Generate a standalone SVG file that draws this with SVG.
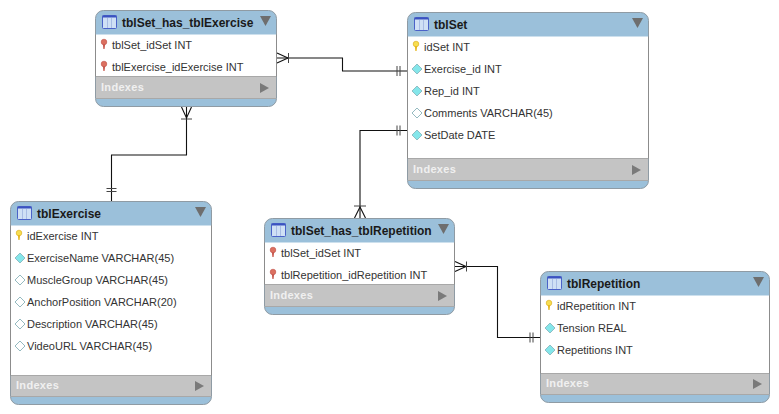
<svg xmlns="http://www.w3.org/2000/svg" width="779" height="414" viewBox="0 0 779 414">
<style>
text{font-family:"Liberation Sans",Arial,sans-serif}
.t{font-size:12px;font-weight:bold;fill:#1a1a1a}
.f{font-size:11px;fill:#333}
.x{font-size:11px;font-weight:bold;fill:#f0f0f0;letter-spacing:.3px}
.card{fill:#9bc0da;stroke:#8f9ba4;stroke-width:1}
.body{fill:#fff}
.idx{fill:#c4c4c4}
.sep{stroke:#a8a8a8;stroke-width:1;fill:none}
.edge{stroke:#8c8c8c;stroke-width:1;fill:none}
.c{fill:none;stroke:#111;stroke-width:1.1}
.m{fill:none;stroke:#444;stroke-width:1}
</style>
<defs>
<g id="tbl"><rect x="0.500" y="0.500" width="14" height="13" rx="1" fill="#cfe0f5" stroke="#4a62c8"/><rect x="0.500" y="0.500" width="14" height="2" fill="#3a52c0"/><path d="M5.500 3V13M9.500 3V13" stroke="#a8bce4" fill="none"/></g>
<path id="dn" d="M0 0H11L5.500 10Z" fill="#6e6e6e"/>
<path id="rt" d="M0 0L9 5L0 10Z" fill="#7a7a7a"/>
<g id="pk"><circle cx="3" cy="3" r="2.800" fill="#f7de50" stroke="#d8a818" stroke-width=".6"/><path d="M1.800 5H4.200L3.600 10H2.400Z" fill="#e6b820"/></g>
<g id="fk"><circle cx="3" cy="3" r="2.800" fill="#dc7060" stroke="#c05048" stroke-width=".6"/><path d="M1.800 5H4.200L3.600 10H2.400Z" fill="#c85a50"/></g>
<path id="fill" d="M5 0L10 5L5 10L0 5Z" fill="#84e6ea" stroke="#7aa8b0" stroke-width=".7"/>
<path id="open" d="M5 0L10 5L5 10L0 5Z" fill="#fff" stroke="#7aa8b0" stroke-width=".8"/>
</defs>

<g id="connectors">
<path class="c" d="M277 58H342.500V71H407"/>
<path class="c" d="M277 53L288 58L277 63"/><path class="m" d="M288.500 53V63"/>
<path class="m" d="M397 66V76M400 66V76"/>
<path class="c" d="M407 130.500H360V218"/>
<path class="m" d="M397 125.500V135.500M400 125.500V135.500"/>
<path class="m" d="M354 206H366"/><path class="c" d="M354.500 218L360 207L365.500 218"/>
<path class="c" d="M186.500 107V155H111.500V201"/>
<path class="m" d="M181 119H192"/><path class="c" d="M181.500 107L186.500 118L191.500 107"/>
<path class="m" d="M106.500 188.500H116.500M106.500 191.500H116.500"/>
<path class="c" d="M455 266.500H497.500V337.500H540"/>
<path class="c" d="M455 261.500L466 266.500L455 271.500"/><path class="m" d="M466.500 261.500V271.500"/>
<path class="m" d="M530 332.500V342.500M533 332.500V342.500"/>
</g>

<g id="tblSet_has_tblExercise">
<rect class="card" x="95.500" y="10.500" width="181" height="96" rx="8"/>
<rect class="body" x="96" y="34.500" width="180" height="42"/>
<rect class="idx" x="96" y="76.500" width="180" height="22"/>
<path class="sep" d="M96 76.500H276M96 98.500H276"/><path class="edge" d="M95.500 34.500V76.500M276.500 34.500V76.500"/>
<use href="#tbl" x="102" y="15"/><text class="t" x="122" y="27">tblSet_has_tblExercise</text><use href="#dn" x="260" y="16"/>
<use href="#fk" x="101" y="39"/><text class="f" x="112" y="49">tblSet_idSet INT</text>
<use href="#fk" x="101" y="61"/><text class="f" x="112" y="71">tblExercise_idExercise INT</text>
<text class="x" x="101" y="91">Indexes</text><use href="#rt" x="260" y="83"/>
</g>

<g id="tblSet">
<rect class="card" x="407.500" y="12.500" width="241" height="176" rx="8"/>
<rect class="body" x="408" y="36.500" width="240" height="122"/>
<rect class="idx" x="408" y="158.500" width="240" height="22"/>
<path class="sep" d="M408 158.500H648M408 180.500H648"/><path class="edge" d="M407.500 36.500V158.500M648.500 36.500V158.500"/>
<use href="#tbl" x="414" y="17"/><text class="t" x="434" y="29">tblSet</text><use href="#dn" x="632" y="18"/>
<use href="#pk" x="413" y="41"/><text class="f" x="424" y="51">idSet INT</text>
<use href="#fill" x="412" y="64"/><text class="f" x="424" y="73">Exercise_id INT</text>
<use href="#fill" x="412" y="86"/><text class="f" x="424" y="95">Rep_id INT</text>
<use href="#open" x="412" y="108"/><text class="f" x="424" y="117">Comments VARCHAR(45)</text>
<use href="#fill" x="412" y="130"/><text class="f" x="424" y="139">SetDate DATE</text>
<text class="x" x="413" y="173">Indexes</text><use href="#rt" x="632" y="165"/>
</g>

<g id="tblExercise">
<rect class="card" x="10.500" y="201.500" width="201" height="203" rx="8"/>
<rect class="body" x="11" y="225.500" width="200" height="150"/>
<rect class="idx" x="11" y="375.500" width="200" height="21"/>
<path class="sep" d="M11 375.500H211M11 396.500H211"/><path class="edge" d="M10.500 225.500V375.500M211.500 225.500V375.500"/>
<use href="#tbl" x="17" y="206"/><text class="t" x="37" y="218">tblExercise</text><use href="#dn" x="195" y="207"/>
<use href="#pk" x="16" y="230"/><text class="f" x="27" y="240">idExercise INT</text>
<use href="#fill" x="15" y="253"/><text class="f" x="27" y="262">ExerciseName VARCHAR(45)</text>
<use href="#open" x="15" y="275"/><text class="f" x="27" y="284">MuscleGroup VARCHAR(45)</text>
<use href="#open" x="15" y="297"/><text class="f" x="27" y="306">AnchorPosition VARCHAR(20)</text>
<use href="#open" x="15" y="319"/><text class="f" x="27" y="328">Description VARCHAR(45)</text>
<use href="#open" x="15" y="341"/><text class="f" x="27" y="350">VideoURL VARCHAR(45)</text>
<text class="x" x="16" y="389">Indexes</text><use href="#rt" x="195" y="381"/>
</g>

<g id="tblSet_has_tblRepetition">
<rect class="card" x="264.500" y="218.500" width="190" height="96" rx="8"/>
<rect class="body" x="265" y="242.500" width="189" height="42"/>
<rect class="idx" x="265" y="284.500" width="189" height="22"/>
<path class="sep" d="M265 284.500H454M265 306.500H454"/><path class="edge" d="M264.500 242.500V284.500M454.500 242.500V284.500"/>
<use href="#tbl" x="271" y="223"/><text class="t" x="291" y="235">tblSet_has_tblRepetition</text><use href="#dn" x="438" y="224"/>
<use href="#fk" x="270" y="247"/><text class="f" x="281" y="257">tblSet_idSet INT</text>
<use href="#fk" x="270" y="269"/><text class="f" x="281" y="279">tblRepetition_idRepetition INT</text>
<text class="x" x="270" y="299">Indexes</text><use href="#rt" x="438" y="291"/>
</g>

<g id="tblRepetition">
<rect class="card" x="540.500" y="271.500" width="229" height="131" rx="8"/>
<rect class="body" x="541" y="295.500" width="228" height="78"/>
<rect class="idx" x="541" y="373.500" width="228" height="21"/>
<path class="sep" d="M541 373.500H769M541 394.500H769"/><path class="edge" d="M540.500 295.500V373.500M769.500 295.500V373.500"/>
<use href="#tbl" x="547" y="276"/><text class="t" x="567" y="288">tblRepetition</text><use href="#dn" x="753" y="277"/>
<use href="#pk" x="546" y="300"/><text class="f" x="557" y="310">idRepetition INT</text>
<use href="#fill" x="545" y="323"/><text class="f" x="557" y="332">Tension REAL</text>
<use href="#fill" x="545" y="345"/><text class="f" x="557" y="354">Repetitions INT</text>
<text class="x" x="546" y="387">Indexes</text><use href="#rt" x="753" y="379"/>
</g>
</svg>
